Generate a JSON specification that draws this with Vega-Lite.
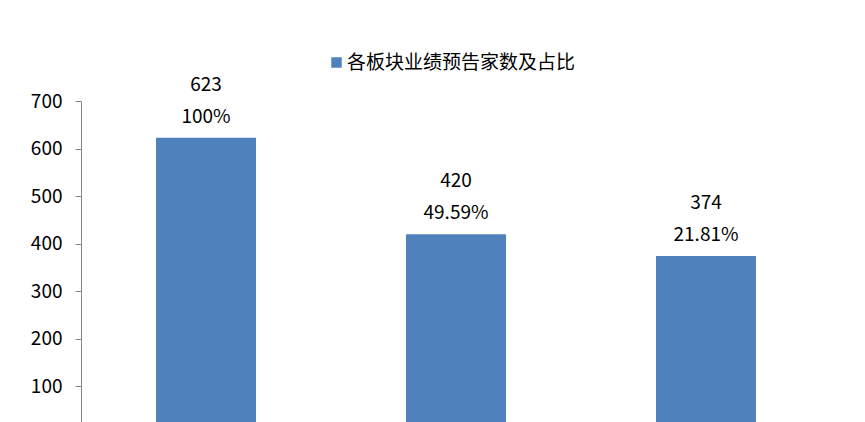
{
  "$schema": "https://vega.github.io/schema/vega-lite/v6.json",
  "autosize": {"type": "none"},
  "width": 750,
  "height": 333,
  "padding": {"left": 81, "top": 101, "right": 34, "bottom": 0},
  "background": "white",
  "config": {
    "view": {"stroke": null},
    "font": "Noto Sans CJK SC"
  },
  "data": {
    "values": [
      {"board": "全部", "count": 623, "pct": "100%"},
      {"board": "中小板", "count": 420, "pct": "49.59%"},
      {"board": "创业板", "count": 374, "pct": "21.81%"}
    ]
  },
  "encoding": {
    "x": {
      "field": "board",
      "type": "nominal",
      "sort": null,
      "scale": {"paddingInner": 0.6, "paddingOuter": 0.3},
      "axis": null
    },
    "y": {
      "field": "count",
      "type": "quantitative",
      "scale": {"domain": [0, 700], "nice": false},
      "axis": {
        "values": [100, 200, 300, 400, 500, 600, 700],
        "grid": false,
        "title": null,
        "domainColor": "#868686",
        "tickColor": "#868686",
        "tickSize": 6,
        "labelPadding": 13,
        "labelFont": "Noto Sans CJK SC",
        "labelFontSize": 19,
        "labelColor": "#000000"
      }
    }
  },
  "layer": [
    {
      "mark": {"type": "bar"},
      "encoding": {
        "color": {
          "datum": "各板块业绩预告家数及占比",
          "type": "nominal",
          "scale": {"range": ["#4F81BD"]},
          "legend": {
            "title": null,
            "orient": "none",
            "legendX": 246,
            "legendY": -48,
            "symbolType": "square",
            "symbolSize": 110,
            "symbolStrokeWidth": 0,
            "labelFont": "Noto Sans CJK SC",
            "labelFontSize": 19,
            "labelColor": "#000000",
            "labelOffset": 1,
            "labelLimit": 500
          }
        }
      }
    },
    {
      "mark": {"type": "text", "dy": -53, "baseline": "middle", "fontSize": 19, "font": "Noto Sans CJK SC", "color": "#000000"},
      "encoding": {"text": {"field": "count", "type": "quantitative"}}
    },
    {
      "mark": {"type": "text", "dy": -21, "baseline": "middle", "fontSize": 19, "font": "Noto Sans CJK SC", "color": "#000000"},
      "encoding": {"text": {"field": "pct", "type": "nominal"}}
    }
  ]
}
